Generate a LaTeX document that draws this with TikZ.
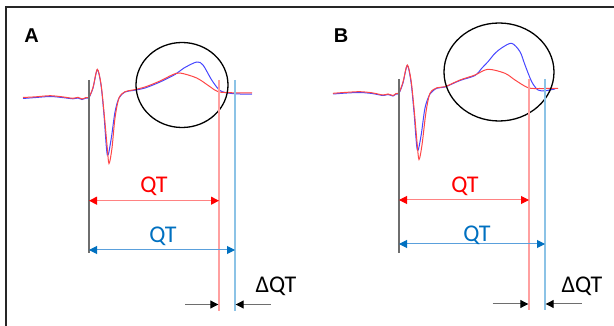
\documentclass[tikz,border=0pt]{standalone}
\usepackage{fontspec}
\setmainfont{Carlito}
\newfontfamily\labfont{Liberation Sans}
\usetikzlibrary{arrows.meta}
\definecolor{trRed}{RGB}{255,70,70}
\definecolor{trBlue}{RGB}{70,70,255}
\definecolor{vRed}{RGB}{255,160,160}
\definecolor{vBlue}{RGB}{140,195,230}
\definecolor{qtRed}{RGB}{255,0,0}
\definecolor{qtBlue}{RGB}{0,112,192}
\definecolor{arBlue}{RGB}{90,160,220}
\definecolor{arRed}{RGB}{255,130,130}
\definecolor{vGrey}{RGB}{110,110,110}
\tikzset{
  trace/.style={line width=1pt, smooth, tension=0.5},
  vline/.style={line width=1.3pt},
  qtlab/.style={font=\fontsize{24}{24}\selectfont, anchor=base, inner sep=0pt},
  panlab/.style={font=\labfont\bfseries\fontsize{20}{20}\selectfont, anchor=base, inner sep=0pt},
  redarr/.style={line width=1pt, arRed, {Triangle[length=8pt,width=8pt,color=qtRed]}-{Triangle[length=8pt,width=8pt,color=qtRed]}},
  bluearr/.style={line width=1pt, arBlue, {Triangle[length=8pt,width=8pt,color=qtBlue]}-{Triangle[length=8pt,width=8pt,color=qtBlue]}},
  blkarr/.style={line width=1pt, vGrey, -{Triangle[length=8pt,width=8pt,color=black]}},
  ring/.style={line width=1.3pt, black}
}
\begin{document}
\begin{tikzpicture}[x=1pt,y=-1pt]
\useasboundingbox (0,0) rectangle (614,326);
% frame
\draw[line width=2pt, black!85] (6,326) -- (6,7.3) -- (614,7.3);

% ================= Panel A =================
\node[panlab] (labA) at (31.5,43) {A};
% traces
\draw[trace, trBlue] plot coordinates {(23,98.5) (36,97.5) (50,96.5) (62,97.5) (73,98.8) (78,98) (82,99.5) (86,98) (89,97.5) (93,88) (97.3,69.8) (101,85) (104,115) (107.3,155) (111,140) (115,112) (119,98) (125,92) (133,90.5) (145,88) (160,82) (175,74.5) (184,68) (196.7,62) (203,65) (211.7,80) (220,90.5) (230,93.3) (240,94) (252,94)};
\draw[trace, trRed] plot coordinates {(23,97.5) (36,96.8) (50,95.7) (62,96.8) (73,98.3) (78,97.3) (82,99) (86,97.5) (89,97) (93,87.5) (97.3,69.3) (101,84) (104,112) (107,145) (109,163.5) (112,148) (115,118) (119,98) (125,91.7) (133,90) (145,87) (160,81) (172,75) (180,73) (196.7,78) (210,86.7) (218,91.7) (230,92.7) (252,93)};
\draw[ring] (182,85) ellipse [x radius=46, y radius=42.5];
% verticals
\coordinate (a0t) at (89,80);   \coordinate (a0b) at (89,253);
\coordinate (art) at (219,80); \coordinate (arb) at (219,311);
\coordinate (abt) at (235,80);  \coordinate (abb) at (235,311);
\draw[vline, vGrey] (a0t) -- (a0b);
\draw[vline, vRed] (art) -- (arb);
\draw[vline, vBlue] (abt) -- (abb);
% arrows
\coordinate (arl) at (89,200.7);  \coordinate (arr) at (219,200.7);
\coordinate (abl) at (89,250);    \coordinate (abr) at (235,250);
\draw[redarr] (arl) -- (arr);
\draw[bluearr] (abl) -- (abr);
\node[qtlab, qtRed] (qtRA) at (154,192.3) {QT};
\node[qtlab, qtBlue] (qtBA) at (163,242.3) {QT};
\coordinate (adl) at (185,304.5); \coordinate (adle) at (218.3,304.5);
\coordinate (adr) at (270.7,304.5); \coordinate (adre) at (235.7,304.5);
\draw[blkarr] (adl) -- (adle);
\draw[blkarr] (adr) -- (adre);
\node[qtlab, black] (dA) at (276,292) {ΔQT};

% ================= Panel B =================
\node[panlab] (labB) at (341,43) {B};
\draw[trace, trBlue] plot coordinates {(333,94) (347,93) (360,92.5) (372,93.5) (383,95.5) (388,94.5) (393,96) (396,94) (399,93.2) (403,83) (407.3,65.5) (411,82) (414,112) (417.3,150) (421,136) (425,108) (430,94) (437,88.2) (445,87) (460,80.5) (475,75.5) (482,68) (488,61.7) (495,53.3) (502,47.7) (511.7,43.3) (520,51.7) (525,65) (531.7,81.7) (538,90) (545,90.7) (555,89)};
\draw[trace, trRed] plot coordinates {(333,93.3) (347,92.3) (360,91.7) (372,92.8) (383,95) (388,94) (393,95.5) (396,93.5) (399,92.7) (403,82) (407.3,65) (411,80) (414,108) (417,142) (419,159.5) (422,145) (426,112) (430,93.3) (437,87.7) (445,86.7) (460,80) (475,75) (488,69.3) (505,73.3) (515,80) (528,87.7) (540,88.5) (558,88.3)};
\draw[ring] (499,72) ellipse [x radius=55, y radius=49];
\coordinate (b0t) at (399,79);   \coordinate (b0b) at (399,253);
\coordinate (brt) at (529,79);   \coordinate (brb) at (529,310);
\coordinate (bbt) at (545,79);   \coordinate (bbb) at (545,310);
\draw[vline, vGrey] (b0t) -- (b0b);
\draw[vline, vRed] (brt) -- (brb);
\draw[vline, vBlue] (bbt) -- (bbb);
\coordinate (brl) at (399,200);  \coordinate (brr) at (529,200);
\coordinate (bbl) at (399,244);  \coordinate (bbr) at (545,244);
\draw[redarr] (brl) -- (brr);
\draw[bluearr] (bbl) -- (bbr);
\node[qtlab, qtRed] (qtRB) at (465,192.3) {QT};
\node[qtlab, qtBlue] (qtBB) at (477,242) {QT};
\coordinate (bdl) at (492.7,304); \coordinate (bdle) at (528.3,304);
\coordinate (bdr) at (581.7,304); \coordinate (bdre) at (545.7,304);
\draw[blkarr] (bdl) -- (bdle);
\draw[blkarr] (bdr) -- (bdre);
\node[qtlab, black] (dB) at (582,292) {ΔQT};
\end{tikzpicture}
\end{document}
